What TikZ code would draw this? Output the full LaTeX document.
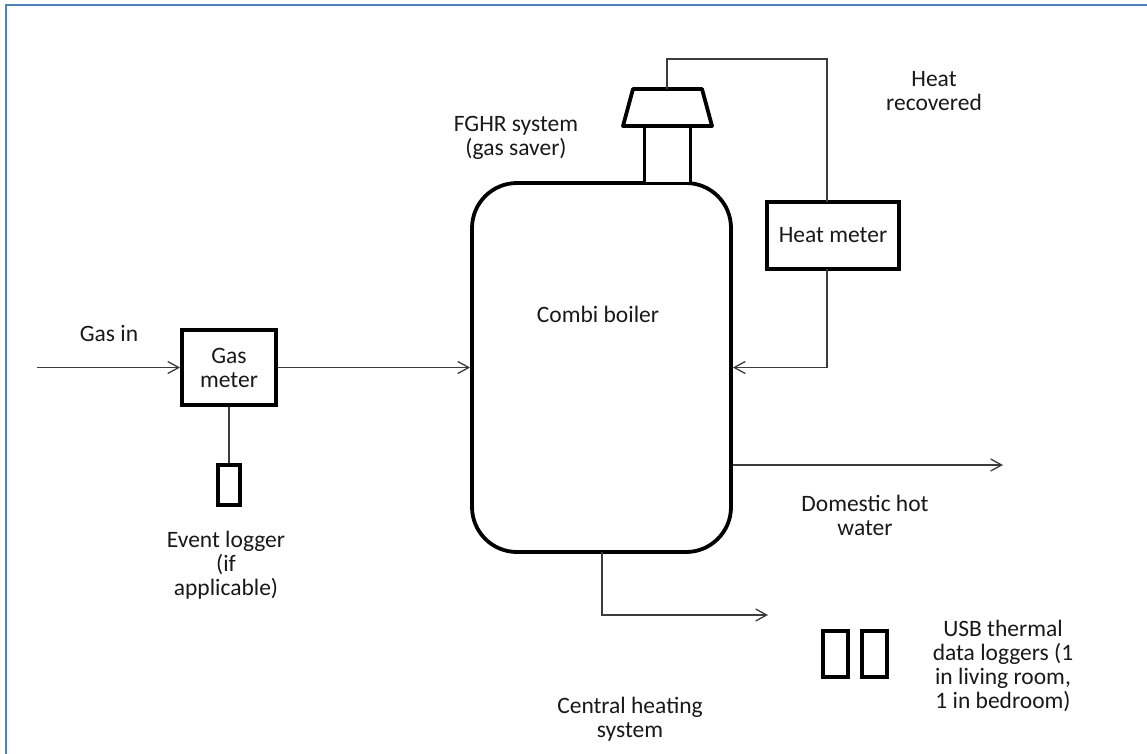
\documentclass[tikz,border=0pt]{standalone}
\usepackage{fontspec}
\setmainfont{Carlito}
\usetikzlibrary{arrows.meta}
\definecolor{framecol}{RGB}{79,129,189}
\definecolor{txt}{RGB}{25,25,25}
\definecolor{thin}{RGB}{60,60,60}
\tikzset{
  box/.style={draw=black, line width=3.8pt, fill=white, inner sep=0pt, align=center, text=txt},
  flow/.style={draw=thin, line width=1.3pt},
  arr/.style={flow, -{Straight Barb[length=11pt,width=12pt,line width=1.3pt]}},
  lbl/.style={align=center, text=txt, inner sep=0pt}
}
\begin{document}
\begin{tikzpicture}[x=1pt,y=-1pt,font=\fontsize{23.5}{24}\selectfont]
\useasboundingbox (0,0) rectangle (1147,753);
\fill[white] (0,0) rectangle (1147,753);
\draw[framecol, line width=2.5pt] (6,5) rectangle (1170,780);

% boiler
\node[box, rounded corners=45pt, minimum width=259pt, minimum height=369pt] (boiler) at (601.5,367.5) {};
\node[lbl] (boilerlbl) at (598,314) {Combi boiler};

% chimney
\node[box, minimum width=46pt, minimum height=57pt] (chimney) at (667.5,155) {};
\draw[black, line width=3.8pt, line join=round, fill=white] (623,126) -- (633,89) -- (702,89) -- (712,126) -- cycle;
\coordinate (fgtop) at (667,89);

% gas meter
\node[box, minimum width=94pt, minimum height=75pt] (gm) at (229,367.5) {Gas\\meter};
\node[box, line width=3.2pt, minimum width=22pt, minimum height=40pt] (ev) at (229,485) {};
\coordinate (gasin) at (37,367.5);

% heat meter
\node[box, minimum width=132pt, minimum height=67pt] (hm) at (833,235.5) {Heat meter};

% USB loggers
\node[box, line width=3.2pt, minimum width=25pt, minimum height=46pt] (usb1) at (835.5,654) {};
\node[box, line width=3.2pt, minimum width=25pt, minimum height=46pt] (usb2) at (874.5,654) {};

% coordinates
\coordinate (hc1) at (667,59);
\coordinate (hc2) at (827,59);
\coordinate (hmtop) at (827,202);
\coordinate (hmbot) at (827,269);
\coordinate (hc3) at (827,367.5);
\coordinate (dhw) at (1003,465);
\coordinate (ch1) at (602,552);
\coordinate (ch2) at (602,615);
\coordinate (chend) at (768,615);

% connectors
\draw[arr] (gasin) -- (gm.west);
\draw[arr] (gm.east) -- (boiler.west |- gm.east);
\draw[flow] (gm.south) -- (ev.north);
\draw[flow] (fgtop) -- (hc1) -- (hc2) -- (hmtop);
\draw[arr] (hmbot) -- (hc3) -- (boiler.east |- hc3);
\draw[arr] (boiler.east |- dhw) -- (dhw);
\draw[arr] (ch1) -- (ch2) -- (chend);

% labels
\node[lbl] (l1) at (109,333) {Gas in};
\node[lbl] (l2) at (226,565) {Event logger\\(if\\applicable)};
\node[lbl] (l3) at (516,137.5) {FGHR system\\(gas saver)};
\node[lbl] (l4) at (934,91.5) {Heat\\recovered};
\node[lbl] (l5) at (865,515.5) {Domestic hot\\water};
\node[lbl] (l6) at (630,719.5) {Central heating\\system};
\node[lbl] (l7) at (1003,666) {USB thermal\\data loggers (1\\in living room,\\1 in bedroom)};
\end{tikzpicture}
\end{document}
